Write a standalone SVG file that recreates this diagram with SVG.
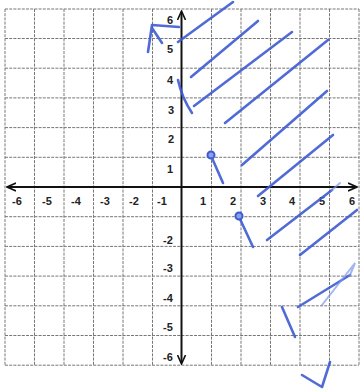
<svg xmlns="http://www.w3.org/2000/svg" width="360" height="390" viewBox="0 0 360 390">
<style>
.g{stroke:#777;stroke-width:1;stroke-dasharray:3 1.2;fill:none}
.ax{stroke:#111;stroke-width:2;fill:none}
.lb{font-family:"Liberation Sans",Arial,sans-serif;font-size:11px;font-weight:bold;fill:#222;text-anchor:middle}
.b{stroke:#3d5bd0;stroke-width:2.6;stroke-linecap:round;stroke-linejoin:round;fill:none;opacity:0.9}
.bl{stroke:#7f96e6;stroke-width:2;stroke-linecap:round;fill:none;opacity:0.7}
.dot{stroke:#3d5bd0;stroke-width:2;fill:#8aa0ea}
</style>
<defs>
<marker id="ah" markerWidth="10" markerHeight="10" refX="8" refY="5" orient="auto" markerUnits="userSpaceOnUse">
<path d="M0,1 L9,5 L0,9" fill="none" stroke="#111" stroke-width="1.6"/>
</marker>
</defs>
<rect width="360" height="390" fill="#fff"/>
<g id="grid">
<path class="g" d="M5,9V365M34.5,9V365M64,9V365M93.5,9V365M123,9V365M152.5,9V365M211.5,9V365M241,9V365M270.5,9V365M300,9V365M329.5,9V365M359,9V365"/>
<path class="g" d="M5,9H359M5,38.5H359M5,68.2H359M5,97.9H359M5,127.6H359M5,157.3H359M5,216.7H359M5,246.4H359M5,276.1H359M5,305.8H359M5,335.5H359M5,365.2H359"/>
</g>
<g id="axes">
<line class="ax" x1="181.5" y1="187" x2="8" y2="187" marker-end="url(#ah)"/>
<line class="ax" x1="181.5" y1="187" x2="356" y2="187" marker-end="url(#ah)"/>
<line class="ax" x1="181.5" y1="187" x2="181.5" y2="12" marker-end="url(#ah)"/>
<line class="ax" x1="181.5" y1="187" x2="181.5" y2="363" marker-end="url(#ah)"/>
</g>
<g id="labels">
<text class="lb" x="17" y="205">-6</text>
<text class="lb" x="47" y="205">-5</text>
<text class="lb" x="76" y="205">-4</text>
<text class="lb" x="105" y="205">-3</text>
<text class="lb" x="134" y="205">-2</text>
<text class="lb" x="162" y="205">-1</text>
<text class="lb" x="203" y="205">1</text>
<text class="lb" x="233" y="205">2</text>
<text class="lb" x="263" y="205">3</text>
<text class="lb" x="292" y="205">4</text>
<text class="lb" x="322" y="205">5</text>
<text class="lb" x="352" y="205">6</text>
<text class="lb" x="170" y="24">6</text>
<text class="lb" x="170" y="53">5</text>
<text class="lb" x="170" y="84">4</text>
<text class="lb" x="171" y="114">3</text>
<text class="lb" x="171" y="143">2</text>
<text class="lb" x="170" y="173">1</text>
<text class="lb" x="168" y="244">-2</text>
<text class="lb" x="168" y="272">-3</text>
<text class="lb" x="168" y="302">-4</text>
<text class="lb" x="168" y="331">-5</text>
<text class="lb" x="168" y="361">-6</text>
</g>
<g id="marks">
<path class="b" d="M179,27 L152,25 L148,52 M152,28 L162,43"/>
<path class="b" d="M178,80 Q182,98 192,113"/>
<path class="b" d="M178,42 L233,2"/>
<path class="b" d="M191,77 L258,21"/>
<path class="b" d="M194,106 L292,32"/>
<path class="b" d="M225,123 L328,40"/>
<path class="b" d="M242,165 L327,91"/>
<path class="b" d="M258,196 L333,135"/>
<path class="b" d="M267,240 L332,190"/>
<path class="bl" d="M332,190 L340,183"/>
<path class="b" d="M300,255 L357,210"/>
<path class="b" d="M298,307 L350,275"/>
<path class="bl" d="M350,275 L355,263 L322,305"/>
<path class="b" d="M282,307 L295,337"/>
<path class="b" d="M212,158 L223,183"/>
<circle class="dot" cx="211" cy="155" r="3.5"/>
<path class="b" d="M240,219 L253,247"/>
<circle class="dot" cx="239" cy="216" r="3.5"/>
<path class="b" d="M302,375 L322,387 L330,362"/>
</g>
</svg>
